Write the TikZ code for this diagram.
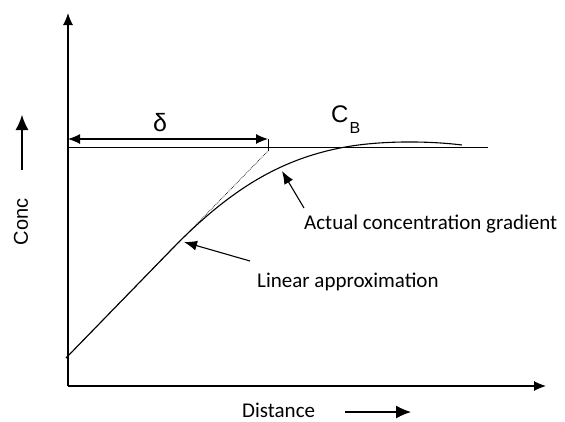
\documentclass[tikz,border=0pt]{standalone}
\usepackage{fontspec}
\setmainfont{Liberation Sans}
\newfontfamily\carlitofont{Carlito}
\usetikzlibrary{arrows.meta}
\begin{document}
\begin{tikzpicture}[x=1pt,y=-1pt,
  ax/.style={line width=1.1pt,-{Latex[length=12pt,width=10pt]}},
  bigax/.style={line width=1.1pt,-{Latex[length=15pt,width=13pt]}},
  ptr/.style={line width=1.1pt,-{Latex[length=13pt,width=10pt]}},
  lbl/.style={font=\carlitofont\fontsize{21}{24}\selectfont,inner sep=0pt,anchor=west}]
\useasboundingbox (0,0) rectangle (565,421);
\coordinate (O) at (68,386);
\coordinate (ytop) at (68,13);
\coordinate (xend) at (546,386);
\draw[ax] (O) -- (ytop);
\draw[ax] (O) -- (xend);
% C_B line
\coordinate (cbl) at (68,147);
\coordinate (cbr) at (488,147);
\draw[line width=1pt] (cbl) -- (cbr);
% delta
\coordinate (dl) at (68,139);
\coordinate (dr) at (268,139);
\draw[line width=1.1pt,{Latex[length=12pt,width=10pt]}-{Latex[length=12pt,width=10pt]}] (dl) -- (dr);
\coordinate (tk1) at (268,139);
\coordinate (tk2) at (268,151);
\draw[line width=0.6pt] (tk1) -- (tk2);
\node[font=\fontsize{25}{27}\selectfont,inner sep=0pt] (delta) at (160,123) {δ};
\node[font=\fontsize{24}{26}\selectfont,inner sep=0pt,anchor=base west] (cb) at (331,122) {C\kern1pt\raisebox{-11pt}{\fontsize{16}{17}\selectfont B}};
% linear approximation dotted
\coordinate (l0) at (66,358);
\coordinate (l1) at (268,151);
\draw[densely dotted,line width=0.7pt] (l0) -- (l1);
% actual curve
\coordinate (c1) at (170,251);
\coordinate (c2) at (340,148);
\coordinate (c3) at (462,145);
\draw[line width=1.1pt] (l0) -- (c1) .. controls (230,189) and (280,160) .. (c2) .. controls (380,140) and (430,141) .. (c3);
% labels
\node[lbl] (act) at (304,224) {Actual concentration gradient};
\node[lbl] (lin) at (257,282) {Linear approximation};
\coordinate (aT) at (304,208);
\coordinate (aH) at (282,171);
\draw[ptr] (aT) -- (aH);
\coordinate (lT) at (250,261);
\coordinate (lH) at (184,242);
\draw[ptr] (lT) -- (lH);
% Conc
\node[rotate=90,font=\fontsize{20}{22}\selectfont,inner sep=0pt] (conc) at (21,222) {Conc};
\coordinate (cT) at (22,170);
\coordinate (cH) at (22,115);
\draw[bigax] (cT) -- (cH);
% Distance
\node[lbl] (dist) at (242,410) {Distance};
\coordinate (dT) at (345,412);
\coordinate (dH) at (411,412);
\draw[bigax] (dT) -- (dH);
\end{tikzpicture}
\end{document}
